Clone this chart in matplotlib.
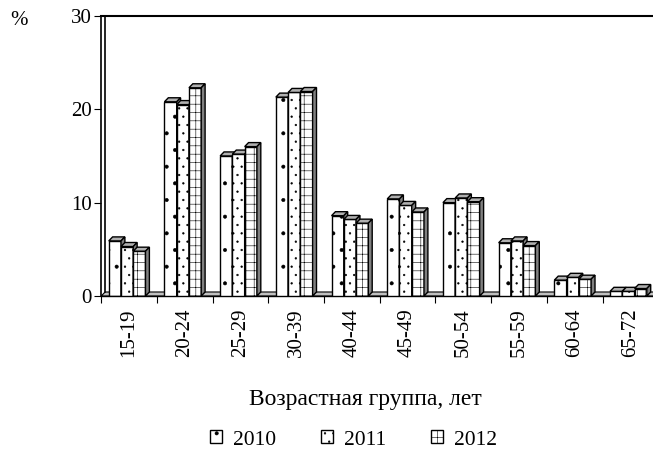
import numpy as np
import matplotlib.pyplot as plt
from matplotlib.patches import Polygon, Patch

plt.rcParams['font.family'] = ['Liberation Serif', 'DejaVu Serif']
plt.rcParams['hatch.linewidth'] = 0.4

groups = ["15-19", "20-24", "25-29", "30-39", "40-44", "45-49", "50-54", "55-59", "60-64", "65-72"]
years = ["2010", "2011", "2012"]
v2010 = [5.9, 20.8, 15.0, 21.3, 8.6, 10.4, 10.0, 5.7, 1.7, 0.5]
v2011 = [5.3, 20.5, 15.2, 21.8, 8.2, 9.7, 10.5, 5.9, 2.0, 0.5]
v2012 = [4.8, 22.3, 16.0, 21.9, 7.8, 9.0, 10.1, 5.4, 1.8, 0.8]
series = [v2010, v2011, v2012]
hatches = ['.', '..', '++']

fig = plt.figure(figsize=(6.53, 4.54), dpi=100)
ax = fig.add_axes([0.155, 0.348, 0.853, 0.617])

w = 0.22
dx, dy = 0.07, 0.43  # depth offset of 3d look
x = np.arange(len(groups))

# floor
floor = Polygon([(-0.5, 0), (9.5, 0), (9.5 + dx, dy), (-0.5 + dx, dy)],
                closed=True, facecolor='#c0c0c0', edgecolor='black', lw=0.8, zorder=1)
ax.add_patch(floor)
# left wall back edge
ax.plot([-0.5 + dx, -0.5 + dx], [dy, 30], color='black', lw=1.2, zorder=1, clip_on=False)
ax.plot([-0.5, -0.5 + dx], [30, 30], color='black', lw=1.2, zorder=1, clip_on=False)

z = 2
for i in range(len(groups)):
    for k in range(3):
        h = series[k][i]
        x0 = i - 1.5 * w - dx / 2 + k * w
        ax.bar(x0, h, width=w, align='edge', facecolor='white', edgecolor='black',
               hatch=hatches[k], lw=1.0, zorder=z)
        top = Polygon([(x0, h), (x0 + w, h), (x0 + w + dx, h + dy), (x0 + dx, h + dy)],
                      closed=True, facecolor='#b0b0b0', edgecolor='black', lw=1.0, zorder=z)
        side = Polygon([(x0 + w, 0), (x0 + w + dx, dy), (x0 + w + dx, h + dy), (x0 + w, h)],
                       closed=True, facecolor='#808080', edgecolor='black', lw=1.0, zorder=z)
        ax.add_patch(top)
        ax.add_patch(side)
        z += 1

ax.set_xlim(-0.5, 9.5)
ax.set_ylim(0, 30)
ax.set_yticks([0, 10, 20, 30])
ax.set_xticks(np.arange(-0.5, 10, 1), minor=False)
ax.set_xticklabels([])
ax.set_xticks(x, minor=True)
ax.set_xticklabels(groups, minor=True, rotation=90, fontsize=15)
ax.tick_params(axis='x', which='minor', length=0, pad=9)
ax.tick_params(axis='x', which='major', length=5, direction='out')
ax.tick_params(axis='y', labelsize=15, length=5, direction='out', pad=2)
ax.spines['right'].set_visible(False)
ax.spines['top'].set_linewidth(1.5)
ax.spines['left'].set_linewidth(1.2)
ax.spines['bottom'].set_linewidth(1.0)

fig.text(0.559, 1 - 400 / 454, "Возрастная группа, лет", fontsize=17, ha='center', va='center')
fig.text(0.015, 0.955, "%", fontsize=15, ha='left', va='center')

handles = [Patch(facecolor='white', edgecolor='black', hatch=hatches[k], label=years[k]) for k in range(3)]
fig.legend(handles=handles, loc='center', bbox_to_anchor=(0.541, 1 - 440 / 454), ncol=3, frameon=False,
           fontsize=15.5, handlelength=0.55, handleheight=0.55, handletextpad=0.5, columnspacing=2.1)

fig.savefig("out.png", dpi=100)
